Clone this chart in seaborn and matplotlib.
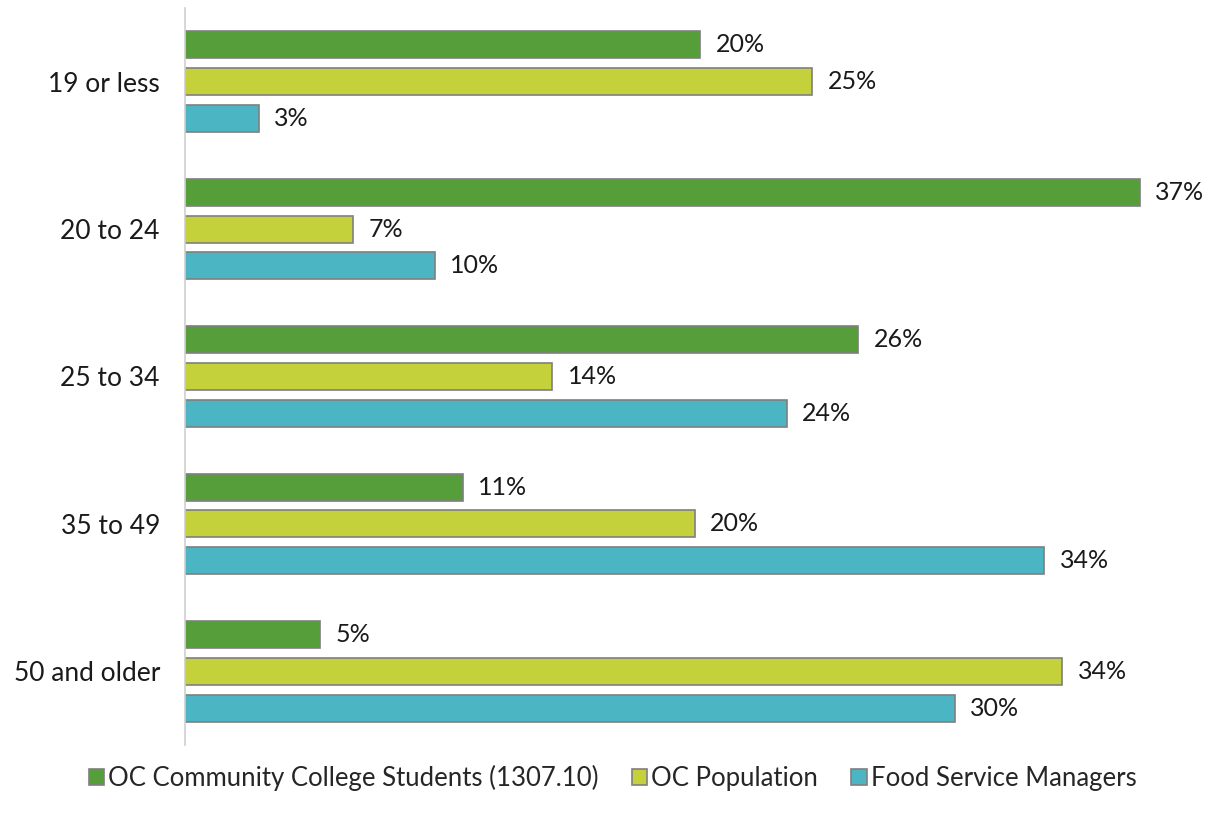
import pandas as pd
import numpy as np
import matplotlib.pyplot as plt
import seaborn as sns

age_groups = ['19 or less', '20 to 24', '25 to 34', '35 to 49', '50 and older']
series_names = ['OC Community College Students (1307.10)', 'OC Population', 'Food Service Managers']
# shares in percent (labels show rounded values)
students = [20.2, 37.45, 26.4, 10.9, 5.3]
population = [24.6, 6.6, 14.4, 20.0, 34.4]
managers = [2.9, 9.8, 23.6, 33.7, 30.2]

colors = ['#559E3A', '#C4D13A', '#4BB5C4']

df = pd.DataFrame({
    'Age': age_groups * 3,
    'Group': [series_names[0]] * 5 + [series_names[1]] * 5 + [series_names[2]] * 5,
    'Share': students + population + managers,
})

sns.set_style('white')
plt.rcParams['font.family'] = ['Lato', 'DejaVu Sans']

fig = plt.figure(figsize=(12.25, 8.16), dpi=100)
ax = fig.add_axes([185 / 1225, 1 - 745 / 816, 1000 / 1225, 737 / 816])

sns.barplot(data=df, x='Share', y='Age', hue='Group', order=age_groups,
            hue_order=series_names, palette=colors, saturation=1, width=0.75, gap=0.27,
            edgecolor='#7F7F7F', linewidth=1.2, ax=ax, legend=False)

for container in ax.containers:
    ax.bar_label(container, labels=[f'{v:.0f}%' for v in container.datavalues],
                 padding=11, fontsize=18, color='#1A1A1A')

ax.set_xlim(0, 1000 / 25.5)
ax.set_ylim(4.5, -0.5)
ax.set_xlabel('')
ax.set_ylabel('')
ax.set_xticks([])
ax.tick_params(axis='y', length=0, pad=18, labelsize=19, labelcolor='#1A1A1A')
for side in ['top', 'right', 'bottom']:
    ax.spines[side].set_visible(False)
ax.spines['left'].set_color('#D0D0D0')
ax.spines['left'].set_linewidth(1.2)

handles = [plt.Rectangle((0, 0), 1, 1, facecolor=c, edgecolor='#7F7F7F', linewidth=1.2)
           for c in colors]
fig.legend(handles, series_names, loc='center', bbox_to_anchor=(0.5, 1 - 778 / 816),
           ncol=3, frameon=False, fontsize=18.5, handlelength=0.6, handleheight=0.6,
           handletextpad=0.15, columnspacing=1.3)

fig.savefig('out.png', dpi=100)
